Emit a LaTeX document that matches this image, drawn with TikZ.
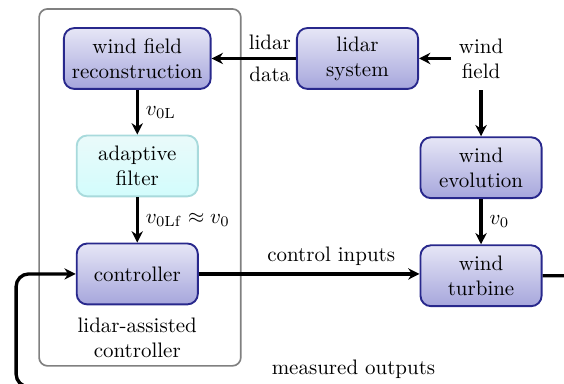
\documentclass[tikz,border=0pt]{standalone}
\usetikzlibrary{arrows.meta}
\definecolor{blocktop}{RGB}{230,230,246}
\definecolor{blockbot}{RGB}{166,166,220}
\definecolor{blockline}{RGB}{40,40,140}
\definecolor{filtertop}{RGB}{234,250,250}
\definecolor{filterbot}{RGB}{210,252,252}
\definecolor{filterline}{RGB}{168,218,220}
\tikzset{
    block/.style={rectangle, rounded corners=5pt, draw=blockline, line width=0.9pt,
        top color=blocktop, bottom color=blockbot, align=center,
        minimum width=2.03cm, minimum height=1.02cm},
    filterblock/.style={block, draw=filterline, top color=filtertop, bottom color=filterbot},
    groupbox/.style={rectangle, rounded corners=4pt, draw=gray, line width=0.8pt},
    flow/.style={line width=1.6pt, -{Stealth[length=5.4pt,width=5.4pt]}}
}
\begin{document}
\begin{tikzpicture}
    \useasboundingbox (0,0) rectangle (9.45,-6.42);
    \node [groupbox, minimum width=3.38cm, minimum height=5.98cm] (lac) at (2.345,-3.14) {};
    \node [block, minimum width=2.46cm] (recon) at (2.30,-0.98) {wind field\\reconstruction};
    \node [filterblock] (filter) at (2.30,-2.78) {adaptive\\filter};
    \node [block] (controller) at (2.30,-4.59) {controller};
    \node [align=center] (laclabel) at (2.30,-5.66) {lidar-assisted\\controller};
    \node [block] (lidar) at (5.99,-0.98) {lidar\\system};
    \node [align=center] (wind) at (8.06,-0.98) {wind\\field};
    \node [block] (evolution) at (8.06,-2.81) {wind\\evolution};
    \node [block] (turbine) at (8.06,-4.62) {wind\\turbine};
    \coordinate (fbright) at (9.9,-6.48);
    \coordinate (fbleft) at (0.27,-6.48);
    \draw [flow] (wind) -- (lidar);
    \draw [flow] (lidar) -- node [pos=0.31, above] {lidar} node [pos=0.31, below] {data} (recon);
    \draw [flow] (recon) -- node [right] {$v_{0\mathrm{L}}$} (filter);
    \draw [flow] (filter) -- node [right] {$v_{0\mathrm{Lf}} \approx v_0$} (controller);
    \draw [flow] ([yshift=-2pt]wind.south) -- (evolution);
    \draw [flow] (evolution) -- node [right] {$v_0$} (turbine);
    \draw [flow] (controller.east) -- node [pos=0.6, above] {control inputs} (controller.east -| turbine.west);
    \draw [flow, rounded corners=6pt] (turbine.east) -| (fbright)
        -- node [pos=0.413, above] {measured outputs} (fbleft) |- (controller.west);
\end{tikzpicture}
\end{document}
